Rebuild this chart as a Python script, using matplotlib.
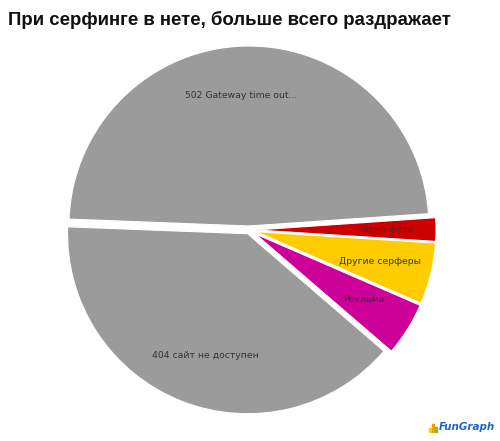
import matplotlib
matplotlib.use("Agg")
import matplotlib.pyplot as plt
from matplotlib.patches import Rectangle

title = "При серфинге в нете, больше всего раздражает"
categories = ["502 Gateway time out...", "Порно фото", "Другие серферы", "Реклама", "404 сайт не доступен"]
values = [48.3, 2.1, 5.5, 4.8, 39.3]
colors = ["#9b9b9b", "#cc0000", "#ffcc00", "#cc0099", "#9b9b9b"]
explode = [4, 7, 7, 7, 4]  # pixel offsets (data units)

# label positions in pixel coords (x, y from top)
label_pos = [(241, 96), (385, 229), (380, 261), (364, 300), (205, 356)]

W, H = 500, 441
fig = plt.figure(figsize=(W / 100, H / 100), dpi=100)
ax = fig.add_axes([0, 0, 1, 1])

ax.pie(values, colors=colors, explode=explode, startangle=177.8, counterclock=False,
       center=(249, H - 230), radius=180, frame=True,
       wedgeprops=dict(edgecolor="white", linewidth=0.8))
ax.set_xlim(0, W)
ax.set_ylim(0, H)
ax.set_aspect("equal")
ax.axis("off")

for name, (x, y) in zip(categories, label_pos):
    ax.text(x, H - y, name, ha="center", va="center", fontsize=6.7,
            color="#333333", family="DejaVu Sans")

fig.text(8 / W, 1 - 20 / H, title, ha="left", va="center", fontsize=13.4,
         fontweight="bold", family="Liberation Sans", color="#111111")

# logo
bars = [(429, 3, "#ffcc00"), (432, 6, "#ff9900"), (435, 4, "#66cc33")]
for bx, bh, bc in bars:
    ax.add_patch(Rectangle((bx, H - 432), 2.2, bh * 1.3, color=bc))
ax.text(439, H - 427, "FunGraph", ha="left", va="center", fontsize=7.5,
        fontweight="bold", color="#1a66cc", family="DejaVu Sans", style="italic")

fig.savefig("out.png", dpi=100, facecolor="white")
